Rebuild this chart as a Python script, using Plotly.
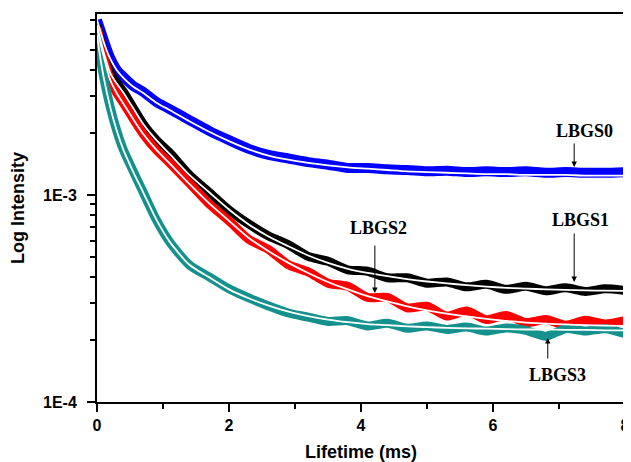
import plotly.graph_objects as go

# ---- data ----
t_data = [0, 0.05, 0.1, 0.2, 0.3, 0.4, 0.55, 0.7, 0.9, 1.1, 1.4, 1.7, 2.0, 2.3, 2.6, 2.9,
          3.2, 3.5, 3.8, 4.1, 4.4, 4.7, 5.0, 5.3, 5.6, 5.9, 6.2, 6.5, 6.8, 7.1, 7.4, 7.7, 8.0]

# measured decay (bands)
lbgs0 = [7.0e-3, 6.27e-3, 5.61e-3, 4.59e-3, 4.02e-3, 3.72e-3, 3.36e-3, 3.15e-3, 2.81e-3, 2.60e-3,
         2.30e-3, 2.04e-3, 1.84e-3, 1.67e-3, 1.56e-3, 1.50e-3, 1.44e-3, 1.40e-3, 1.35e-3, 1.35e-3,
         1.33e-3, 1.32e-3, 1.30e-3, 1.31e-3, 1.29e-3, 1.30e-3, 1.29e-3, 1.30e-3, 1.28e-3, 1.29e-3,
         1.28e-3, 1.28e-3, 1.29e-3]
lbgs1 = [6.6e-3, 5.61e-3, 4.91e-3, 3.88e-3, 3.48e-3, 3.15e-3, 2.63e-3, 2.20e-3, 1.84e-3, 1.60e-3,
         1.25e-3, 1.03e-3, 8.46e-4, 7.24e-4, 6.34e-4, 5.75e-4, 5.05e-4, 4.78e-4, 4.35e-4, 4.28e-4,
         3.98e-4, 3.98e-4, 3.75e-4, 3.80e-4, 3.60e-4, 3.70e-4, 3.50e-4, 3.62e-4, 3.45e-4, 3.56e-4,
         3.42e-4, 3.52e-4, 3.46e-4]
lbgs2 = [6.41e-3, 5.48e-3, 4.69e-3, 3.59e-3, 3.11e-3, 2.78e-3, 2.33e-3, 1.97e-3, 1.65e-3, 1.43e-3,
         1.14e-3, 9.04e-4, 7.49e-4, 6.10e-4, 5.45e-4, 4.60e-4, 4.25e-4, 3.75e-4, 3.62e-4, 3.20e-4,
         3.20e-4, 2.85e-4, 2.90e-4, 2.60e-4, 2.75e-4, 2.50e-4, 2.62e-4, 2.42e-4, 2.50e-4, 2.35e-4,
         2.48e-4, 2.38e-4, 2.47e-4]
lbgs3 = [5.93e-3, 4.59e-3, 3.72e-3, 2.66e-3, 2.04e-3, 1.65e-3, 1.30e-3, 1.03e-3, 7.57e-4, 5.93e-4,
         4.59e-4, 4.02e-4, 3.52e-4, 3.18e-4, 2.91e-4, 2.69e-4, 2.57e-4, 2.45e-4, 2.47e-4, 2.33e-4,
         2.40e-4, 2.27e-4, 2.33e-4, 2.24e-4, 2.30e-4, 2.20e-4, 2.28e-4, 2.22e-4, 2.08e-4, 2.26e-4,
         2.20e-4, 2.26e-4, 2.14e-4]

# fitted curves (white lines)
fit0 = [7.0e-3, 6.2e-3, 5.5e-3, 4.55e-3, 4.0e-3, 3.68e-3, 3.33e-3, 3.11e-3, 2.79e-3, 2.57e-3,
        2.27e-3, 2.02e-3, 1.82e-3, 1.66e-3, 1.55e-3, 1.48e-3, 1.43e-3, 1.39e-3, 1.36e-3, 1.34e-3,
        1.32e-3, 1.30e-3, 1.29e-3, 1.28e-3, 1.27e-3, 1.26e-3, 1.26e-3, 1.25e-3, 1.25e-3, 1.25e-3,
        1.24e-3, 1.24e-3, 1.24e-3]
fit1 = [6.6e-3, 5.6e-3, 4.9e-3, 3.88e-3, 3.45e-3, 3.12e-3, 2.62e-3, 2.20e-3, 1.84e-3, 1.58e-3,
        1.25e-3, 1.03e-3, 8.5e-4, 7.2e-4, 6.3e-4, 5.65e-4, 5.1e-4, 4.7e-4, 4.4e-4, 4.2e-4,
        4.05e-4, 3.92e-4, 3.82e-4, 3.74e-4, 3.67e-4, 3.61e-4, 3.56e-4, 3.53e-4, 3.50e-4, 3.48e-4,
        3.46e-4, 3.45e-4, 3.44e-4]
fit2 = [6.41e-3, 5.45e-3, 4.69e-3, 3.59e-3, 3.1e-3, 2.76e-3, 2.32e-3, 1.97e-3, 1.65e-3, 1.42e-3,
        1.13e-3, 9.1e-4, 7.5e-4, 6.2e-4, 5.35e-4, 4.7e-4, 4.2e-4, 3.8e-4, 3.5e-4, 3.25e-4,
        3.06e-4, 2.9e-4, 2.77e-4, 2.67e-4, 2.59e-4, 2.52e-4, 2.46e-4, 2.42e-4, 2.39e-4, 2.37e-4,
        2.35e-4, 2.34e-4, 2.33e-4]
fit3 = [5.93e-3, 4.6e-3, 3.72e-3, 2.66e-3, 2.04e-3, 1.65e-3, 1.29e-3, 1.03e-3, 7.6e-4, 5.95e-4,
        4.6e-4, 4.0e-4, 3.5e-4, 3.17e-4, 2.92e-4, 2.73e-4, 2.6e-4, 2.5e-4, 2.43e-4, 2.38e-4,
        2.35e-4, 2.32e-4, 2.30e-4, 2.28e-4, 2.27e-4, 2.26e-4, 2.25e-4, 2.24e-4, 2.24e-4, 2.23e-4,
        2.23e-4, 2.22e-4, 2.22e-4]

series = [("LBGS0", lbgs0, fit0, "#0000FF", 10),
          ("LBGS1", lbgs1, fit1, "#000000", 9),
          ("LBGS2", lbgs2, fit2, "#FF0000", 9),
          ("LBGS3", lbgs3, fit3, "#14918C", 9)]

x_ticks = [0, 2, 4, 6, 8]
y_ticks = [1e-4, 1e-3]
y_ticktext = ["1E-4", "1E-3"]
y_minor = [m * 10.0 ** e for e in (-4, -3) for m in range(2, 10)]

fig = go.Figure()
for name, d, f, c, w in series:
    fig.add_trace(go.Scatter(x=t_data, y=d, mode="lines", name=name,
                             line=dict(color=c, width=w, shape="spline", smoothing=0.7),
                             showlegend=False))
for name, d, f, c, w in series:
    fig.add_trace(go.Scatter(x=t_data, y=f, mode="lines", name=name + " fit",
                             line=dict(color="white", width=1.8, shape="spline", smoothing=0.7),
                             showlegend=False))

lab_font = dict(family="Liberation Serif", size=18, color="black", weight="bold")
# (label, text x, text log-y, arrow x, tail log-y, tip log-y)
labels = [("LBGS0", 7.38, -2.691, 7.23, -2.744, -2.865),
          ("LBGS1", 7.33, -3.121, 7.23, -3.179, -3.420),
          ("LBGS2", 4.26, -3.159, 4.21, -3.237, -3.473),
          ("LBGS3", 6.97, -3.870, 6.83, -3.797, -3.691)]
for txt, tx, ty, axx, tail, tip in labels:
    fig.add_annotation(x=tx, y=ty, text=txt, showarrow=False, font=lab_font,
                       xanchor="center", yanchor="middle")
    fig.add_annotation(x=axx, y=tip, ax=axx, ay=tail, axref="x", ayref="y", text="",
                       showarrow=True, arrowhead=2, arrowsize=1.1, arrowwidth=1,
                       arrowcolor="black")

tick_font = dict(family="Liberation Sans", size=16, color="black", weight="bold")
title_font = dict(family="Liberation Sans", size=18, color="black", weight="bold")

fig.update_xaxes(range=[0, 8], tickvals=x_ticks, ticks="outside", ticklen=8, tickwidth=2,
                 tickcolor="black", showline=True, linecolor="black", linewidth=2, mirror=True,
                 showgrid=False, zeroline=False, tickfont=tick_font, automargin=False,
                 minor=dict(dtick=1, ticks="outside", ticklen=5, tickwidth=1.5, tickcolor="black",
                            showgrid=False),
                 title=dict(text="Lifetime (ms)", font=title_font, standoff=12))
fig.update_yaxes(type="log", range=[-4, -2.126], tickmode="array", tickvals=y_ticks,
                 ticktext=y_ticktext, ticks="outside", ticklen=8, tickwidth=2, tickcolor="black",
                 showline=True, linecolor="black", linewidth=2, mirror=True, showgrid=False,
                 zeroline=False, tickfont=tick_font, automargin=False, ticklabelstandoff=7,
                 minor=dict(tickmode="array", tickvals=y_minor, ticks="outside", ticklen=5,
                            tickwidth=1.5, tickcolor="black", showgrid=False),
                 title=dict(text="Log Intensity", font=title_font, standoff=16))

# the page body adds an 8 px offset, so the figure is 8 px smaller than the window
fig.update_layout(width=623, height=454, margin=dict(l=89, r=6, t=6, b=60, autoexpand=False),
                  plot_bgcolor="white", paper_bgcolor="white", showlegend=False)

fig.write_html("out.html")
